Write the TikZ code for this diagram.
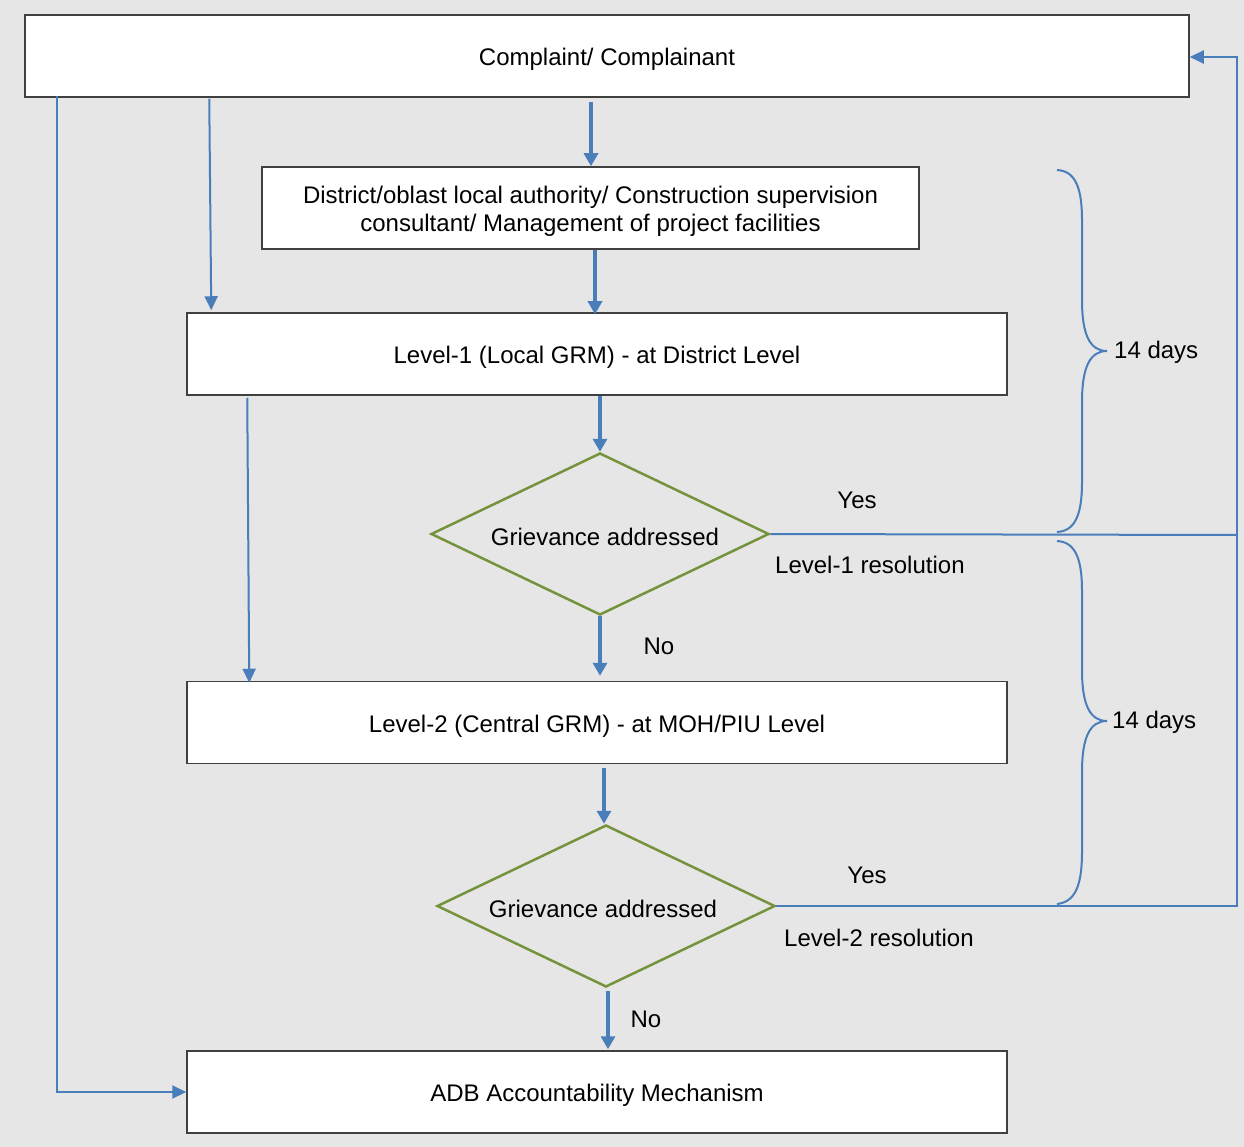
\documentclass[tikz,border=0pt]{standalone}
\usepackage{fontspec}
\setmainfont{Liberation Sans}
\usetikzlibrary{shapes.geometric,arrows.meta,calc}
\definecolor{bg}{HTML}{E6E6E6}
\definecolor{flow}{HTML}{4A7EBB}
\definecolor{frame}{HTML}{404040}
\definecolor{decide}{HTML}{76923C}
\begin{document}
\begin{tikzpicture}[x=1pt,y=-1pt,
  font=\fontsize{24}{28}\selectfont,
  box/.style={draw=frame,line width=1.5pt,fill=white,inner sep=0pt,align=center,
    text height=25pt,text depth=6pt},
  decision/.style={diamond,draw=decide,line width=2.5pt,inner sep=0pt,shape aspect=2,
    minimum width=338pt,minimum height=162pt},
  mainflow/.style={draw=flow,line width=3.5pt,-{Triangle[width=14pt,length=13pt]}},
  sideflow/.style={draw=flow,line width=2pt,-{Triangle[width=13pt,length=14pt]}},
  sideline/.style={draw=flow,line width=2pt},
  bracket/.style={draw=flow,line width=2pt},
  lbl/.style={inner sep=0pt}]
\useasboundingbox (0,0) rectangle (1244,1147);
\fill[bg] (0,0) rectangle (1244,1147);

% boxes and decisions
\node[box,minimum width=1164pt,minimum height=82pt] (top) at (607,56) {Complaint/ Complainant};
\node[box,minimum width=657pt,minimum height=82pt,text height=,text depth=] (auth) at (590.5,208)
  {\parbox{640pt}{\centering\vspace{6pt}District/oblast local authority/ Construction supervision\\consultant/ Management of project facilities}};
\node[box,minimum width=820pt,minimum height=82pt] (l1) at (597,354) {Level-1 (Local GRM) - at District Level};
\node[decision] (d1) at (600,534) {};
\node at (605,537) {Grievance addressed};
\node[box,minimum width=820pt,minimum height=82pt] (l2) at (597,722.5) {Level-2 (Central GRM) - at MOH/PIU Level};
\node[decision] (d2) at (606,906) {};
\node at (603,909) {Grievance addressed};
\node[box,minimum width=820pt,minimum height=82pt] (adb) at (597,1092) {ADB Accountability Mechanism};

% main flow downwards
\draw[mainflow] ($(top.south)+(-16,4)$) -- ($(auth.north)+(0.5,0)$);
\draw[mainflow] ($(auth.south)+(4.5,0)$) -- ($(l1.north)+(-2,2)$);
\draw[mainflow] ($(l1.south)+(3,0)$) -- (d1.north);
\draw[mainflow] (d1.south) -- ($(l2.north)+(3,-5)$);
\draw[mainflow] ($(l2.south)+(7,4)$) -- ($(d2.north)+(-2,0)$);
\draw[mainflow] ($(d2.south)+(2,3)$) -- ($(adb.north)+(11,-1)$);

% direct escalation routes
\draw[sideflow] ($(top.south west)+(185,1)$) -- ($(l1.north west)+(25,-2)$);
\draw[sideflow] ($(l1.south west)+(61,2)$) -- ($(l2.north west)+(63,2)$);
\coordinate (adbturn) at (57,1092);
\draw[sideflow] ($(adbturn |- top.south)+(0,-2)$) -- (adbturn) -- (adb.west);

% resolution feedback to the complainant
\coordinate (r1) at (1237,535);
\coordinate (r2) at (1237,906);
\coordinate (rtop) at (1237,57);
\draw[sideline] (d1.east) -- (r1);
\draw[sideflow] (d2.east) -- (r2) -- (rtop) -- (top.east |- rtop);

% time-frame brackets
\draw[bracket] (1057,170) .. controls (1074,171) and (1082,185) .. (1082,220)
  -- (1082,300) .. controls (1082,335) and (1090,351) .. (1107,351)
  .. controls (1090,351) and (1082,367) .. (1082,402)
  -- (1082,482) .. controls (1082,517) and (1074,531) .. (1057,532);
\draw[bracket] (1057,541) .. controls (1074,542) and (1082,556) .. (1082,591)
  -- (1082,670) .. controls (1082,705) and (1090,721) .. (1107,721)
  .. controls (1090,721) and (1082,737) .. (1082,772)
  -- (1082,852) .. controls (1082,888) and (1074,902) .. (1057,904);

% labels
\node[lbl,anchor=west] at (1114,352) {14 days};
\node[lbl,anchor=west] at (1112,722) {14 days};
\node[lbl] at (857,500) {Yes};
\node[lbl,anchor=west] at (775,565) {Level-1 resolution};
\node[lbl] at (659,646) {No};
\node[lbl] at (867,875) {Yes};
\node[lbl,anchor=west] at (784,938) {Level-2 resolution};
\node[lbl] at (646,1019) {No};
\end{tikzpicture}
\end{document}
